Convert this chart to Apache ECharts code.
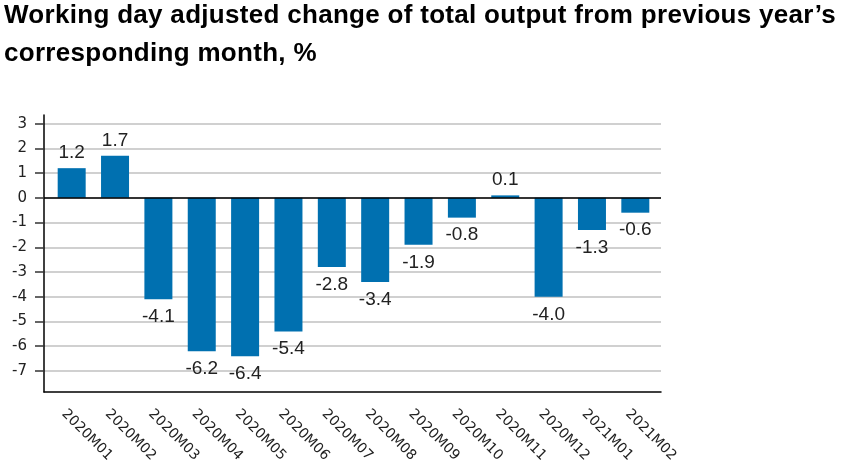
<!DOCTYPE html>
<html>
<head>
<meta charset="utf-8">
<script src="https://cdn.jsdelivr.net/npm/echarts@6/dist/echarts.min.js"></script>
<style>
html,body{margin:0;padding:0;background:#fff;}
#title{position:absolute;left:4px;top:-5px;font-family:"Liberation Sans",Arial,sans-serif;font-weight:bold;font-size:26px;line-height:38px;letter-spacing:0.3px;color:#000;white-space:nowrap;}
#chart{position:absolute;left:0;top:0;width:843px;height:466px;}
</style>
</head>
<body>
<div id="chart"></div>
<div id="title">Working day adjusted change of total output from previous year’s<br>corresponding month, %</div>
<script>
const categories = ["2020M01","2020M02","2020M03","2020M04","2020M05","2020M06","2020M07","2020M08","2020M09","2020M10","2020M11","2020M12","2021M01","2021M02"];
const values = [1.2, 1.7, -4.1, -6.2, -6.4, -5.4, -2.8, -3.4, -1.9, -0.8, 0.1, -4.0, -1.3, -0.6];
const yTicks = [-7, -6, -5, -4, -3, -2, -1, 0, 1, 2, 3];

const chart = echarts.init(document.getElementById('chart'), null, {renderer: 'canvas'});
const yMin = -7.85, yMax = 3.35;
const option = {
  animation: false,
  grid: [
    {left: 44, right: 182, top: 115, bottom: 74},
    {left: 50, right: 186, top: 115, bottom: 74}
  ],
  xAxis: [
    {gridIndex: 0, type: 'value', min: 0, max: 1, position: 'bottom',
     axisLine: {show: true, onZero: false, lineStyle: {color: '#000', width: 1.5}},
     axisTick: {show: false}, axisLabel: {show: false}, splitLine: {show: false}},
    {gridIndex: 1, type: 'category', data: categories, position: 'bottom',
     axisLine: {show: false, onZero: false}, axisTick: {show: false},
     axisLabel: {interval: 0, rotate: -45, margin: 12, fontSize: 14, color: '#222',
                 fontFamily: 'DejaVu Sans', align: 'left', verticalAlign: 'top', padding: [4, 0, 0, 0]}}
  ],
  yAxis: [
    {gridIndex: 0, type: 'value', min: yMin, max: yMax,
     axisLine: {show: true, lineStyle: {color: '#000', width: 1.5}},
     axisTick: {show: true, customValues: yTicks, length: 9, lineStyle: {color: '#333', width: 1.5}},
     axisLabel: {customValues: yTicks, margin: 17, fontSize: 15, color: '#222', fontFamily: 'DejaVu Sans'},
     splitLine: {show: true, lineStyle: {color: '#d0d0d0', width: 2}}},
    {gridIndex: 1, type: 'value', min: yMin, max: yMax, show: false}
  ],
  series: [
    {type: 'line', xAxisIndex: 0, yAxisIndex: 0, data: [], silent: true,
     markLine: {silent: true, symbol: 'none', label: {show: false},
                lineStyle: {color: '#000', type: 'solid', width: 1.5},
                data: [{yAxis: 0}]}, z: 5},
    {type: 'bar', xAxisIndex: 1, yAxisIndex: 1, barWidth: 28,
     itemStyle: {color: '#0070b0'},
     data: values.map(v => ({value: v, label: {position: v < 0 ? 'bottom' : 'top', distance: v < 0 ? 8 : 6}})),
     label: {show: true, fontSize: 19, color: '#222', fontFamily: 'Liberation Sans',
             formatter: p => p.value.toFixed(1)}, z: 2}
  ]
};
chart.setOption(option);
</script>
</body>
</html>
